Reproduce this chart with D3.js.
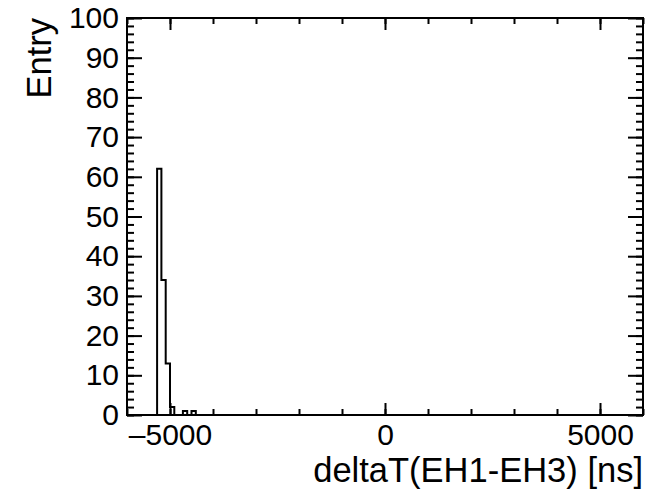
<!DOCTYPE html>
<html><head><meta charset="utf-8">
<script src="https://cdn.jsdelivr.net/npm/d3@7"></script>
<style>body{margin:0;background:#fff}svg{display:block}text{font-family:"Liberation Sans",Arial,sans-serif;fill:#000}</style>
</head><body>
<script>
// Data
const xDomain = [-6000, 6000];
const yDomain = [0, 100];
const binLeft = [-5300, -5200, -5100, -5000, -4900, -4800, -4700, -4600, -4500, -4400];
const binRight = [-5200, -5100, -5000, -4900, -4800, -4700, -4600, -4500, -4400, -4300];
const counts = [62, 34, 13, 2, 0, 0, 1, 0, 1, 0];
const xMajorTicks = [-5000, 0, 5000];
const xMinorTicks = [-6000,-5000,-4000,-3000,-2000,-1000,0,1000,2000,3000,4000,5000,6000];
const yMajorTicks = [0,10,20,30,40,50,60,70,80,90,100];
const yMinorTicks = d3.range(0, 101, 2);
const xTitle = "deltaT(EH1-EH3) [ns]";
const yTitle = "Entry";

const W = 664, H = 492;
const L = 127, R = 643, T = 18, B = 415;
const svg = d3.select("body").append("svg").attr("width", W).attr("height", H);
const x = d3.scaleLinear().domain(xDomain).range([L, R]);
const y = d3.scaleLinear().domain(yDomain).range([B, T]);

// histogram step line
const stepPts = [];
stepPts.push([xDomain[0], 0]);
stepPts.push([binLeft[0], 0]);
binLeft.forEach((b, i) => { stepPts.push([b, counts[i]]); stepPts.push([binRight[i], counts[i]]); });
stepPts.push([binRight[binRight.length-1], 0]);
stepPts.push([xDomain[1], 0]);
svg.append("path")
  .attr("d", d3.line().x(d => x(d[0])).y(d => y(d[1]))(stepPts))
  .attr("fill", "none").attr("stroke", "#000").attr("stroke-width", 2);

// axes
const fs = 30;
svg.append("g").attr("transform", `translate(0,${B})`)
  .call(d3.axisBottom(x).tickValues(xMinorTicks).tickSize(-6).tickFormat(""));
svg.append("g").attr("transform", `translate(0,${B})`)
  .call(d3.axisBottom(x).tickValues(xMajorTicks).tickSize(-12).tickPadding(9)
    .tickFormat(d => d < 0 ? "\u2013" + Math.abs(d) : d));
svg.append("g").attr("transform", `translate(0,${T})`)
  .call(d3.axisTop(x).tickValues(xMinorTicks).tickSize(-6).tickFormat(""));
svg.append("g").attr("transform", `translate(0,${T})`)
  .call(d3.axisTop(x).tickValues(xMajorTicks).tickSize(-12).tickFormat(""));
svg.append("g").attr("transform", `translate(${L},0)`)
  .call(d3.axisLeft(y).tickValues(yMinorTicks).tickSize(-7).tickFormat(""));
svg.append("g").attr("transform", `translate(${L},0)`)
  .call(d3.axisLeft(y).tickValues(yMajorTicks).tickSize(-15).tickPadding(8).tickFormat(d3.format("d")));
svg.append("g").attr("transform", `translate(${R},0)`)
  .call(d3.axisRight(y).tickValues(yMinorTicks).tickSize(-7).tickFormat(""));
svg.append("g").attr("transform", `translate(${R},0)`)
  .call(d3.axisRight(y).tickValues(yMajorTicks).tickSize(-15).tickFormat(""));
svg.selectAll(".domain").remove();
svg.selectAll(".tick line").attr("stroke", "#000").attr("stroke-width", 2);
svg.selectAll(".tick text").attr("font-size", fs).attr("font-family", '"Liberation Sans",Arial,sans-serif').attr("fill", "#000");

// frame
svg.append("rect").attr("x", L).attr("y", T).attr("width", R - L).attr("height", B - T)
  .attr("fill", "none").attr("stroke", "#000").attr("stroke-width", 2);

// titles
svg.append("text").attr("x", R).attr("y", 482).attr("text-anchor", "end")
  .attr("font-size", 34.5).text(xTitle);
svg.append("text").attr("transform", `translate(51,${T}) rotate(-90)`).attr("text-anchor", "end")
  .attr("font-size", 34.5).text(yTitle);
</script>
</body></html>
